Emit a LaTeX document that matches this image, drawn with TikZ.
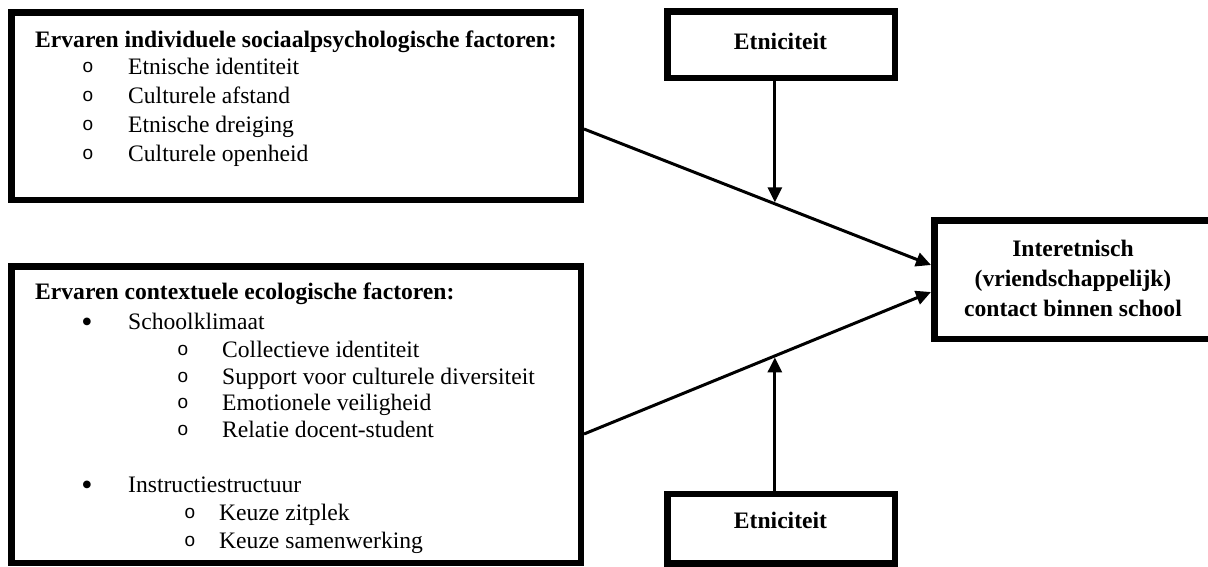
\documentclass[tikz,border=0pt]{standalone}
\usepackage{fontspec}
\setmainfont{Liberation Serif}
\newfontfamily\bulletfont{Liberation Sans}
\usetikzlibrary{arrows.meta}
\begin{document}
\begin{tikzpicture}[x=1pt,y=-1pt,
  box/.style={draw, line width=6.5pt, inner sep=0pt, shape=rectangle},
  conn/.style={line width=3pt, -{Triangle[length=15pt,width=14pt]}},
  txt/.style={anchor=base west, inner sep=0pt, font=\fontsize{23.6pt}{28pt}\selectfont},
  btxt/.style={txt, font=\fontsize{23.6pt}{28pt}\selectfont\bfseries},
  ctxt/.style={anchor=base, inner sep=0pt, font=\fontsize{23.6pt}{28pt}\selectfont\bfseries},
  circ/.style={anchor=base, inner sep=0pt, yshift=1.5pt, font=\fontsize{19pt}{22pt}\selectfont\bulletfont},
  dot/.style={anchor=base, inner sep=0pt, font=\fontsize{32pt}{34pt}\selectfont}]
\useasboundingbox (0,0) rectangle (1208,566);
\fill[white] (0,0) rectangle (1208,566);

% boxes
\node[box, minimum width=569.5pt, minimum height=187.5pt] (b1) at (296,106) {};
\node[box, minimum width=569.5pt, minimum height=296.5pt] (b2) at (296,414.5) {};
\node[box, minimum width=227.5pt, minimum height=66.5pt] (e1) at (781,44.5) {};
\node[box, minimum width=227.5pt, minimum height=69.5pt] (e2) at (781,528.5) {};
\node[box, minimum width=277.5pt, minimum height=118.5pt] (inter) at (1073,279.5) {};

% box 1 text
\node[btxt] (t1) at (35,47) {Ervaren individuele sociaalpsychologische factoren:};
\node[circ] (c11) at (88,74) {o};
\node[txt] (i11) at (128,74) {Etnische identiteit};
\node[circ] (c12) at (88,103) {o};
\node[txt] (i12) at (128,103) {Culturele afstand};
\node[circ] (c13) at (88,132) {o};
\node[txt] (i13) at (128,132) {Etnische dreiging};
\node[circ] (c14) at (88,161) {o};
\node[txt] (i14) at (128,161) {Culturele openheid};

% box 2 text
\node[btxt] (t2) at (35,299) {Ervaren contextuele ecologische factoren:};
\node[dot] (d21) at (87,332) {•};
\node[txt] (i21) at (128,329) {Schoolklimaat};
\node[circ] (c22) at (183,357) {o};
\node[txt] (i22) at (222,357) {Collectieve identiteit};
\node[circ] (c23) at (183,384) {o};
\node[txt] (i23) at (222,384) {Support voor culturele diversiteit};
\node[circ] (c24) at (183,410) {o};
\node[txt] (i24) at (222,410) {Emotionele veiligheid};
\node[circ] (c25) at (183,437) {o};
\node[txt] (i25) at (222,437) {Relatie docent-student};
\node[dot] (d26) at (87,495) {•};
\node[txt] (i26) at (128,492) {Instructiestructuur};
\node[circ] (c27) at (190,520) {o};
\node[txt] (i27) at (219,520) {Keuze zitplek};
\node[circ] (c28) at (190,548) {o};
\node[txt] (i28) at (219,548) {Keuze samenwerking};

% other labels
\node[ctxt] (le1) at (780.5,49) {Etniciteit};
\node[ctxt] (le2) at (780.5,528) {Etniciteit};
\node[ctxt] (li1) at (1073,256) {Interetnisch};
\node[ctxt] (li2) at (1073,286) {(vriendschappelijk)};
\node[ctxt] (li3) at (1073,316) {contact binnen school};

% connectors
\draw[conn] ([yshift=-23pt]b1.east) -- coordinate[pos=0.55] (m1) ([yshift=14.5pt]inter.west);
\draw[conn] ([yshift=-19.5pt]b2.east) -- coordinate[pos=0.55] (m2) ([yshift=-12.5pt]inter.west);
\draw[conn, shorten >=1.5pt] (m1 |- e1.south) -- (m1);
\draw[conn, shorten >=1.5pt] (m2 |- e2.north) -- (m2);
\end{tikzpicture}
\end{document}
